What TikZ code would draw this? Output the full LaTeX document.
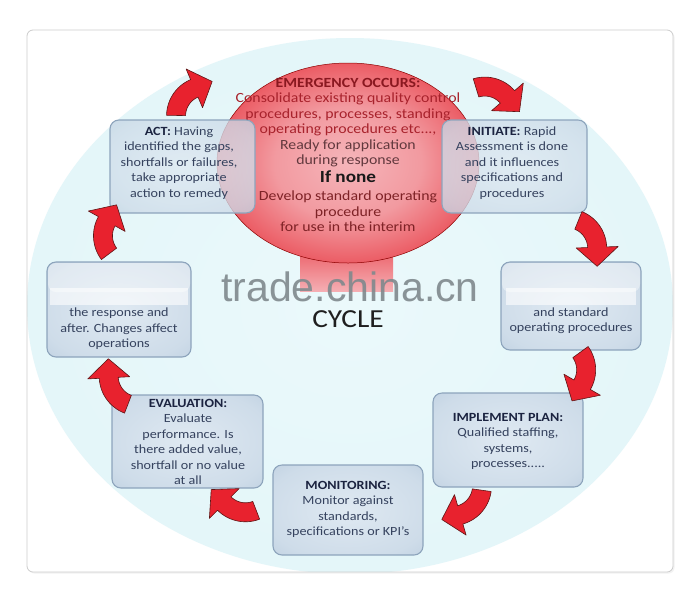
\documentclass[tikz,border=0pt]{standalone}
\usepackage{fontspec}
\setmainfont[FakeStretch=1.13]{Carlito}
\newfontfamily\wmfont{Liberation Sans}
\usetikzlibrary{fadings}
\definecolor{boxedge}{HTML}{8DA4BC}
\definecolor{boxhead}{HTML}{1B2340}
\definecolor{boxtext}{HTML}{35425E}
\definecolor{arrowred}{HTML}{E8222E}
\definecolor{arrowedge}{HTML}{5E1515}
\definecolor{emhead}{HTML}{8A1820}
\definecolor{emred}{HTML}{A8222C}
\definecolor{emgray}{HTML}{62393E}
\definecolor{emdev}{HTML}{7E2226}
\definecolor{wmgray}{HTML}{7F898D}
\definecolor{rc0}{HTML}{F5B5BA}
\definecolor{rc1}{HTML}{F29AA0}
\definecolor{rc2}{HTML}{EC626A}
\definecolor{rc3}{HTML}{E2323C}
\definecolor{bc0}{HTML}{DFE9F2}
\definecolor{bc1}{HTML}{CEDCE9}
\definecolor{bc2}{HTML}{AFC4D8}
\definecolor{bc3}{HTML}{A0B8D0}
\definecolor{cc0}{HTML}{EBF9FB}
\definecolor{cc1}{HTML}{E1F5F8}
\definecolor{cc2}{HTML}{D6F0F5}
\pgfdeclareradialshading{redglow}{\pgfpointorigin}{color(0bp)=(rc0); color(14bp)=(rc1); color(24bp)=(rc2); color(32bp)=(rc3); color(75bp)=(rc3)}
\pgfdeclareradialshading{boxglow}{\pgfpointorigin}{color(0bp)=(bc0); color(28bp)=(bc1); color(50bp)=(bc2); color(71bp)=(bc3); color(80bp)=(bc3)}
\pgfdeclareradialshading{cyanglow}{\pgfpointorigin}{color(0bp)=(cc0); color(34bp)=(cc1); color(50bp)=(cc2); color(75bp)=(cc2)}
\tikzfading[name=bandfade, left color=transparent!100, middle color=transparent!8, right color=transparent!100]
\tikzset{
  cbox/.style={draw=boxedge, line width=1.1pt, rounded corners=9pt, shade, shading=boxglow, inner sep=0pt},
  seethru/.style={fill opacity=0.78},
  btext/.style={align=center, text=boxtext, font=\fontsize{12.5}{15.4}\selectfont, inner sep=0pt},
  arrowbody/.style={fill=arrowred, draw=arrowedge, line width=0.6pt, line join=round},
}
\newcommand{\cycarrow}[3]{%
  \begin{scope}[shift={(#1,#2)},rotate=#3,shift={(0,30)}]
    \filldraw[arrowbody] plot[domain=218:284,samples=16] (\x:39.5) -- (284:51) -- (317:35) -- (284:9) -- plot[domain=284:218,samples=16] (\x:20.5) -- cycle;
  \end{scope}}
\newcommand{\bhd}[1]{\textbf{\color{boxhead}#1}}
\begin{document}
\begin{tikzpicture}[x=1pt,y=-1pt]
\useasboundingbox (0,0) rectangle (700,600);
\fill[white] (0,0) rectangle (700,600);
% frame
\fill[gray!10, rounded corners=6pt] (28.5,31.5) rectangle (674.5,573.5);
\fill[white, rounded corners=6pt] (27,30) rectangle (673,572);
\begin{scope}
  \clip[rounded corners=6pt] (27,30) rectangle (673,572);
  \shade[shading=cyanglow] (350,306) ellipse [x radius=323, y radius=268];
\end{scope}
\draw[gray!40, line width=0.8pt, rounded corners=6pt] (27,30) rectangle (673,572);
% pink stem
\shade[top color=rc2, bottom color=rc1!80!white] (300,250) rectangle (393,291);
% red circle
\shade[shading=redglow] (348,163) ellipse [x radius=131, y radius=100];
\draw[red!55!black, line width=0.5pt] (348,163) ellipse [x radius=131, y radius=100];
\node[align=center, font=\fontsize{14}{15.5}\selectfont, inner sep=0pt] (emtext) at (348,155) {%
  \textcolor{emhead}{\textbf{EMERGENCY OCCURS:}}\\
  \textcolor{emred}{Consolidate existing quality control}\\
  \textcolor{emred}{procedures, processes, standing}\\
  \textcolor{emred}{operating procedures etc...,}\\
  \textcolor{emgray}{Ready for application}\\
  \textcolor{emgray}{during response}\\[2.5pt]
  {\fontsize{17}{18}\selectfont\textbf{\color{black!90}If none}}\\[2.5pt]
  \textcolor{emdev}{Develop standard operating}\\
  \textcolor{emdev}{procedure}\\
  \textcolor{emdev}{for use in the interim}};
% boxes
\node[cbox, seethru, minimum width=145pt, minimum height=93pt] (act) at (182.5,166.5) {};
\node[cbox, seethru, minimum width=145pt, minimum height=93pt] (init) at (514.5,166.5) {};
\node[cbox, minimum width=144pt, minimum height=95pt] (ltb) at (119,309.5) {};
\node[cbox, minimum width=140pt, minimum height=88pt] (rtb) at (571,306) {};
\node[cbox, minimum width=151pt, minimum height=93pt] (eval) at (187.5,441.5) {};
\node[cbox, minimum width=150pt, minimum height=94pt] (impl) at (508,440) {};
\node[cbox, minimum width=150pt, minimum height=90pt] (moni) at (348,510) {};
% box texts
\node[btext] (acttext) at (179,163) {\bhd{ACT:} Having\\identified the gaps,\\shortfalls or failures,\\take appropriate\\action to remedy};
\node[btext] (inittext) at (512,163) {\bhd{INITIATE:} Rapid\\Assessment is done\\and it influences\\specifications and\\procedures};
\node[btext] (ltbtext) at (119,329) {the response and\\after. Changes affect\\operations};
\node[btext] (rtbtext) at (571,321) {and standard\\operating procedures};
\node[btext] (evaltext) at (188,442) {\bhd{EVALUATION:}\\Evaluate\\performance. Is\\there added value,\\shortfall or no value\\at all};
\node[btext] (impltext) at (508,441.5) {\bhd{IMPLEMENT PLAN:}\\Qualified staffing,\\systems,\\processes.....};
\node[btext] (monitext) at (348,509.5) {\bhd{MONITORING:}\\Monitor against\\standards,\\specifications or KPI's};
% blurred headers
\fill[white, opacity=0.4, rounded corners=8pt] (48,263) rectangle (190,292);
\fill[white, path fading=bandfade] (32,285) rectangle (206,308);
\fill[white, opacity=0.6] (50,288) rectangle (188,305);
\fill[white, opacity=0.4, rounded corners=8pt] (502,263) rectangle (640,292);
\fill[white, path fading=bandfade] (489,285) rectangle (656,308);
\fill[white, opacity=0.6] (506,288) rectangle (636,305);
% watermark and title
\node[anchor=base, inner sep=0pt, text=wmgray, text opacity=0.9, font=\wmfont\fontsize{41}{41}\selectfont] (wm) at (350,301) {trade.china.cn};
\node[anchor=base, inner sep=0pt, text=black!88, font=\fontsize{26}{26}\selectfont] (cycle) at (348,327) {CYCLE};
% arrows
\cycarrow{188}{92}{37}
\cycarrow{502}{92}{-35}
\cycarrow{596}{240}{-74}
\cycarrow{585}{378}{-106}
\cycarrow{467}{512}{-150}
\cycarrow{230}{508}{149}
\cycarrow{110}{385}{107}
\cycarrow{104}{228}{75}
\end{tikzpicture}
\end{document}
